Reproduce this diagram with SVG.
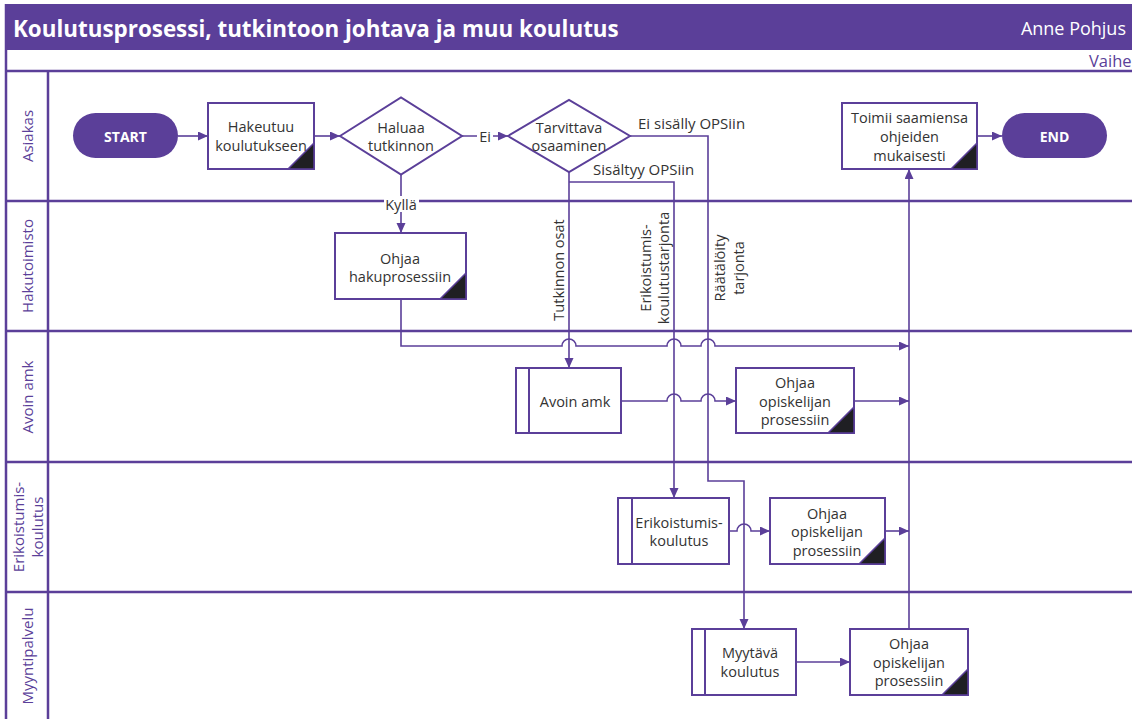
<svg xmlns="http://www.w3.org/2000/svg" width="1132" height="719" viewBox="0 0 1132 719">
  <style>
    .lane { stroke: #5b3f99; stroke-width: 2.5; fill: none; }
    .box { fill: #ffffff; stroke: #5b3f99; stroke-width: 2; }
    .corner { fill: #1f1f23; stroke: #5b3f99; stroke-width: 1.5; }
    .pill { fill: #5b3f99; }
    .conn { stroke: #5b3f99; stroke-width: 1.6; fill: none; }
    .t { font-family: "Open Sans", "Liberation Sans", sans-serif; font-size: 14.5px; fill: #333333; text-anchor: middle; dominant-baseline: central; }
    .lbl { font-family: "Open Sans", "Liberation Sans", sans-serif; font-size: 15px; fill: #333333; dominant-baseline: central; }
    .laneTxt { font-family: "Open Sans", "Liberation Sans", sans-serif; font-size: 15px; fill: #5b3f99; text-anchor: middle; dominant-baseline: central; }
    .pillTxt { font-family: "Open Sans", "Liberation Sans", sans-serif; font-size: 14px; font-weight: bold; fill: #ffffff; text-anchor: middle; dominant-baseline: central; }
  </style>
  <defs>
    <marker id="arrow" markerUnits="userSpaceOnUse" markerWidth="11" markerHeight="10" refX="10" refY="4.5" orient="auto">
      <path d="M0,0 L10,4.5 L0,9 z" fill="#5b3f99"/>
    </marker>
  </defs>

  <rect width="1132" height="719" fill="#ffffff"/>

  <!-- title bar -->
  <g id="header">
    <rect x="6" y="4" width="1126" height="46" fill="#5b3f99"/>
    <text x="13" y="28" font-family="Open Sans, Liberation Sans, sans-serif" font-size="22.4" font-weight="bold" fill="#ffffff" dominant-baseline="central">Koulutusprosessi, tutkintoon johtava ja muu koulutus</text>
    <text x="1126" y="28" font-family="Open Sans, Liberation Sans, sans-serif" font-size="18" fill="#ffffff" text-anchor="end" dominant-baseline="central">Anne Pohjus</text>
    <text x="1089" y="60" font-family="Open Sans, Liberation Sans, sans-serif" font-size="16.5" fill="#5b3f99" dominant-baseline="central">Vaihe</text>
  </g>

  <!-- swimlanes -->
  <g id="lanes">
    <path class="lane" d="M6,4 V719 M48,71 V719 M6,71 H1132 M6,201 H1132 M6,331 H1132 M6,462 H1132 M6,592 H1132"/>
    <text class="laneTxt" transform="translate(27,136) rotate(-90)">Asiakas</text>
    <text class="laneTxt" transform="translate(27,266) rotate(-90)">Hakutoimisto</text>
    <text class="laneTxt" transform="translate(27,397) rotate(-90)">Avoin amk</text>
    <text class="laneTxt" transform="translate(18,527) rotate(-90)">Erikoistumis-</text>
    <text class="laneTxt" transform="translate(37,527) rotate(-90)">koulutus</text>
    <text class="laneTxt" transform="translate(27,656) rotate(-90)">Myyntipalvelu</text>
  </g>

  <!-- connectors -->
  <g id="connectors">
    <path class="conn" marker-end="url(#arrow)" d="M178,136 H208"/>
    <path class="conn" marker-end="url(#arrow)" d="M314,136 H340"/>
    <path class="conn" marker-end="url(#arrow)" d="M462,136 H508"/>
    <path class="conn" marker-end="url(#arrow)" d="M401,174 V233"/>
    <path class="conn" marker-end="url(#arrow)" d="M630,136 H708 V481 H744 V629"/>
    <path class="conn" marker-end="url(#arrow)" d="M569,172 V368"/>
    <path class="conn" marker-end="url(#arrow)" d="M569,182 H674 V498"/>
    <path class="conn" marker-end="url(#arrow)" d="M401,299 V346 H562 A7,7 0 0 1 576,346 H667 A7,7 0 0 1 681,346 H701 A7,7 0 0 1 715,346 H909"/>
    <path class="conn" marker-end="url(#arrow)" d="M621,401 H667 A7,7 0 0 1 681,401 H701 A7,7 0 0 1 715,401 H736"/>
    <path class="conn" marker-end="url(#arrow)" d="M854,401 H909"/>
    <path class="conn" marker-end="url(#arrow)" d="M729,531 H737 A7,7 0 0 1 751,531 H770"/>
    <path class="conn" marker-end="url(#arrow)" d="M885,531 H909"/>
    <path class="conn" marker-end="url(#arrow)" d="M796,662 H850"/>
    <path class="conn" marker-end="url(#arrow)" d="M909,629 V169"/>
    <path class="conn" marker-end="url(#arrow)" d="M977,136 H1002"/>

    <rect x="477" y="128" width="16" height="16" fill="#ffffff"/>
    <text class="t" x="485" y="136">Ei</text>
    <rect x="384" y="196" width="35" height="16" fill="#ffffff"/>
    <text class="t" x="401" y="204">Kyllä</text>
    <text class="lbl" x="638" y="123">Ei sisälly OPSiin</text>
    <text class="lbl" x="593" y="169">Sisältyy OPSiin</text>
    <text class="t" transform="translate(558,270) rotate(-90)">Tutkinnon osat</text>
    <text class="t" transform="translate(645,268) rotate(-90)">Erikoistumis-</text>
    <text class="t" transform="translate(663,268) rotate(-90)">koulutustarjonta</text>
    <text class="t" transform="translate(719,268) rotate(-90)">Räätälöity</text>
    <text class="t" transform="translate(738,268) rotate(-90)">tarjonta</text>
  </g>

  <g id="start">
    <rect class="pill" x="73" y="113" width="105" height="45" rx="22.5"/>
    <text class="pillTxt" x="125.5" y="136">START</text>
  </g>

  <g id="hakeutuu">
    <rect class="box" x="208" y="103" width="106" height="66"/>
    <path class="corner" d="M288,169 L314,143 V169 z"/>
    <text class="t" x="261" y="126">Hakeutuu</text>
    <text class="t" x="261" y="145">koulutukseen</text>
  </g>

  <g id="haluaa">
    <path class="box" d="M340,136 L401,97.5 L462,136 L401,174.5 z"/>
    <text class="t" x="401" y="127">Haluaa</text>
    <text class="t" x="401" y="145">tutkinnon</text>
  </g>

  <g id="tarvittava">
    <path class="box" d="M508,136 L569,100 L630,136 L569,172 z"/>
    <text class="t" x="569" y="127">Tarvittava</text>
    <text class="t" x="569" y="145">osaaminen</text>
  </g>

  <g id="toimii">
    <rect class="box" x="842" y="103" width="135" height="66"/>
    <path class="corner" d="M951,169 L977,143 V169 z"/>
    <text class="t" x="909.5" y="117">Toimii saamiensa</text>
    <text class="t" x="909.5" y="136">ohjeiden</text>
    <text class="t" x="909.5" y="155">mukaisesti</text>
  </g>

  <g id="end">
    <rect class="pill" x="1002" y="113" width="105" height="45" rx="22.5"/>
    <text class="pillTxt" x="1054.5" y="136">END</text>
  </g>

  <g id="ohjaa-haku">
    <rect class="box" x="335" y="233" width="131" height="66"/>
    <path class="corner" d="M440,299 L466,273 V299 z"/>
    <text class="t" x="400" y="258">Ohjaa</text>
    <text class="t" x="400" y="276">hakuprosessiin</text>
  </g>

  <g id="avoin-amk">
    <rect class="box" x="516" y="368" width="105" height="65"/>
    <path class="conn" style="stroke-width:2" d="M529,368 V433"/>
    <text class="t" x="575" y="401">Avoin amk</text>
  </g>

  <g id="ohjaa-avoin">
    <rect class="box" x="736" y="368" width="118" height="65"/>
    <path class="corner" d="M828,433 L854,407 V433 z"/>
    <text class="t" x="795" y="382">Ohjaa</text>
    <text class="t" x="795" y="401">opiskelijan</text>
    <text class="t" x="795" y="419">prosessiin</text>
  </g>

  <g id="erikoistumis">
    <rect class="box" x="618" y="498" width="111" height="66"/>
    <path class="conn" style="stroke-width:2" d="M632,498 V564"/>
    <text class="t" x="679" y="522">Erikoistumis-</text>
    <text class="t" x="679" y="540">koulutus</text>
  </g>

  <g id="ohjaa-erikoistumis">
    <rect class="box" x="770" y="498" width="115" height="66"/>
    <path class="corner" d="M859,564 L885,538 V564 z"/>
    <text class="t" x="827" y="513">Ohjaa</text>
    <text class="t" x="827" y="531">opiskelijan</text>
    <text class="t" x="827" y="550">prosessiin</text>
  </g>

  <g id="myytava">
    <rect class="box" x="692" y="629" width="104" height="66"/>
    <path class="conn" style="stroke-width:2" d="M705,629 V695"/>
    <text class="t" x="750" y="652">Myytävä</text>
    <text class="t" x="750" y="671">koulutus</text>
  </g>

  <g id="ohjaa-myynti">
    <rect class="box" x="850" y="629" width="118" height="66"/>
    <path class="corner" d="M942,695 L968,669 V695 z"/>
    <text class="t" x="909" y="643">Ohjaa</text>
    <text class="t" x="909" y="662">opiskelijan</text>
    <text class="t" x="909" y="680">prosessiin</text>
  </g>
</svg>
